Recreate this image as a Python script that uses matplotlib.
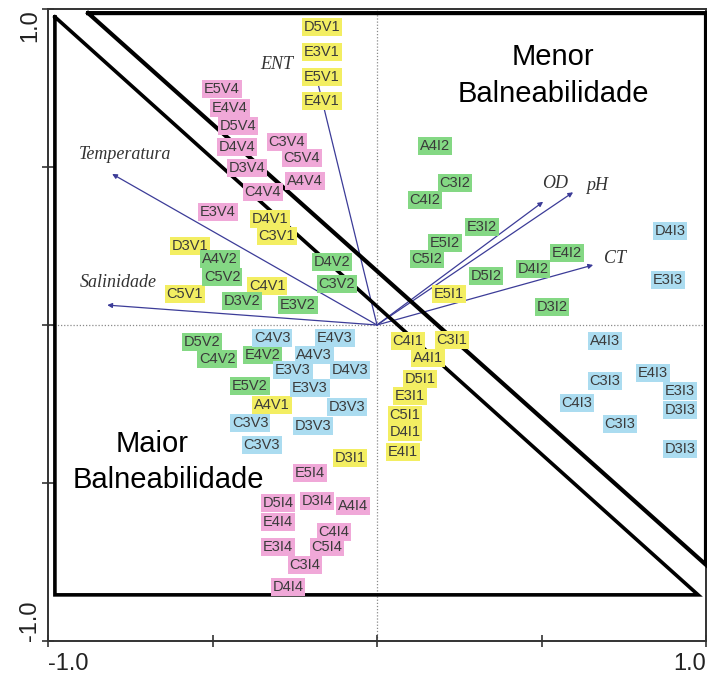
import matplotlib
matplotlib.use("Agg")
import matplotlib.pyplot as plt

plt.rcParams['font.family'] = ['Liberation Sans', 'DejaVu Sans']

# ---- environmental vectors (biplot arrows) ----
var_names = ["ENT", "Temperatura", "Salinidade", "OD", "pH", "CT"]
var_x = [-0.185, -0.805, -0.820, 0.505, 0.596, 0.657]
var_y = [0.788, 0.478, 0.063, 0.390, 0.420, 0.190]
var_lab_x = [-0.304, -0.766, -0.787, 0.541, 0.669, 0.723]
var_lab_y = [0.823, 0.541, 0.133, 0.449, 0.443, 0.212]

# ---- sample scores, grouped by highlight colour ----
yellow_names = ["D5V1", "E3V1", "E5V1", "E4V1", "D4V1", "C3V1", "D3V1", "C4V1", "C5V1",
                "A4V1", "D3I1", "C4I1", "C3I1", "A4I1", "D5I1", "E3I1", "C5I1", "D4I1",
                "E4I1", "E5I1"]
yellow_x = [-0.167, -0.167, -0.167, -0.167, -0.325, -0.304, -0.568, -0.334, -0.584,
            -0.319, -0.082, 0.094, 0.228, 0.155, 0.131, 0.100, 0.085, 0.085, 0.079, 0.219]
yellow_y = [0.943, 0.864, 0.785, 0.709, 0.335, 0.282, 0.250, 0.123, 0.098,
            -0.253, -0.421, -0.051, -0.047, -0.104, -0.171, -0.225, -0.285, -0.339, -0.402, 0.098]

green_names = ["A4V2", "C5V2", "D3V2", "E3V2", "D4V2", "C3V2", "D5V2", "C4V2", "E4V2",
               "E5V2", "A4I2", "C3I2", "C4I2", "E3I2", "E5I2", "C5I2", "D5I2", "D4I2",
               "E4I2", "D3I2"]
green_x = [-0.477, -0.471, -0.410, -0.240, -0.137, -0.122, -0.532, -0.486, -0.347,
           -0.386, 0.176, 0.237, 0.146, 0.319, 0.207, 0.152, 0.331, 0.474, 0.578, 0.532]
green_y = [0.209, 0.152, 0.076, 0.063, 0.199, 0.130, -0.054, -0.108, -0.095,
           -0.193, 0.566, 0.449, 0.396, 0.310, 0.259, 0.209, 0.155, 0.177, 0.228, 0.057]

pink_names = ["E5V4", "E4V4", "D5V4", "D4V4", "C3V4", "C5V4", "D3V4", "A4V4", "C4V4",
              "E3V4", "E5I4", "D5I4", "D3I4", "A4I4", "E4I4", "C4I4", "E3I4", "C5I4",
              "C3I4", "D4I4"]
pink_x = [-0.471, -0.447, -0.422, -0.426, -0.274, -0.228, -0.395, -0.219, -0.347,
          -0.483, -0.204, -0.301, -0.182, -0.073, -0.301, -0.131, -0.301, -0.152, -0.219, -0.271]
pink_y = [0.747, 0.687, 0.630, 0.563, 0.579, 0.528, 0.497, 0.456, 0.421,
          0.358, -0.468, -0.563, -0.557, -0.573, -0.623, -0.655, -0.703, -0.703, -0.759, -0.829]

cyan_names = ["C4V3", "E4V3", "A4V3", "E3V3", "D4V3", "E3V3", "D3V3", "C3V3", "D3V3",
              "C3V3", "D4I3", "E3I3", "A4I3", "E4I3", "C3I3", "E3I3", "C4I3", "D3I3",
              "C3I3", "D3I3"]
cyan_x = [-0.319, -0.128, -0.191, -0.255, -0.082, -0.204, -0.091, -0.386, -0.195,
          -0.350, 0.891, 0.884, 0.693, 0.839, 0.693, 0.921, 0.608, 0.921, 0.739, 0.921]
cyan_y = [-0.041, -0.041, -0.095, -0.142, -0.142, -0.199, -0.259, -0.310, -0.320,
          -0.380, 0.297, 0.142, -0.051, -0.152, -0.177, -0.209, -0.247, -0.269, -0.313, -0.392]

# ---- region outlines (data units) ----
maior_x = [-0.979, 0.976, -0.979, -0.979]
maior_y = [0.975, -0.854, -0.854, 0.975]
menor_x = [-0.878, 1.0, 1.0, -0.878]
menor_y = [0.987, 0.987, -0.759, 0.987]

# ---- figure ----
fig = plt.figure(figsize=(7.07, 6.77), dpi=100)
ax = fig.add_axes([48/707, 36/677, 658/707, 632/677])
ax.set_xlim(-1, 1)
ax.set_ylim(-1, 1)

for s in ax.spines.values():
    s.set_color('#333333')
    s.set_linewidth(1.4)

ax.axhline(0, color='#8a8a8a', lw=0.9, ls=(0, (1, 1.5)), zorder=1)
ax.axvline(0, color='#8a8a8a', lw=0.9, ls=(0, (1, 1.5)), zorder=1)

ax.set_xticks([-1, -0.5, 0, 0.5, 1])
ax.set_xticklabels(["-1.0", "", "", "", "1.0"])
ax.set_yticks([-1, -0.5, 0, 0.5, 1])
ax.set_yticklabels(["-1.0", "", "", "", "1.0"], rotation=90)
ax.tick_params(direction='inout', length=8, width=1.2, color='#333333',
               labelsize=17, labelcolor='#222222')
ax.tick_params(axis='x', pad=5)
ax.tick_params(axis='y', pad=1)
xl = ax.get_xticklabels()
xl[0].set_ha('left')
xl[-1].set_ha('right')
yl = ax.get_yticklabels()
yl[0].set_va('bottom')
yl[-1].set_va('top')

# region outlines
ax.plot(maior_x, maior_y, color='black', lw=2.6, solid_joinstyle='miter', zorder=4, clip_on=False)
ax.plot(menor_x, menor_y, color='black', lw=3.0, solid_joinstyle='miter', zorder=4, clip_on=False)

# arrows
for nm, x, y, lx, ly in zip(var_names, var_x, var_y, var_lab_x, var_lab_y):
    ax.annotate('', xy=(x, y), xytext=(0, 0),
                arrowprops=dict(arrowstyle='-|>', color='#3c3c98', lw=0.9,
                                mutation_scale=7, shrinkA=0, shrinkB=0), zorder=3)
    ax.text(lx, ly, nm, family=['Liberation Serif', 'DejaVu Serif'], style='italic',
            fontsize=13, color='#333333', ha='center', va='center', zorder=5)

groups = [
    (yellow_names, yellow_x, yellow_y, '#f3ee62'),
    (green_names, green_x, green_y, '#84d884'),
    (pink_names, pink_x, pink_y, '#f0a8d8'),
    (cyan_names, cyan_x, cyan_y, '#abdcf0'),
]
for names, xs, ys, col in groups:
    for nm, x, y in zip(names, xs, ys):
        ax.text(x, y, nm, fontsize=10.5, color='#3a3a3a', ha='center', va='center',
                zorder=6, bbox=dict(boxstyle='square,pad=0.12', fc=col, ec='none'))

# region captions
ax.text(0.535, 0.823, "Menor", fontsize=21, ha='center', va='baseline', color='black', zorder=7)
ax.text(0.535, 0.706, "Balneabilidade", fontsize=21, ha='center', va='baseline', color='black', zorder=7)
ax.text(-0.684, -0.402, "Maior", fontsize=21, ha='center', va='baseline', color='black', zorder=7)
ax.text(-0.635, -0.516, "Balneabilidade", fontsize=21, ha='center', va='baseline', color='black', zorder=7)

fig.savefig("out.png", dpi=100)
